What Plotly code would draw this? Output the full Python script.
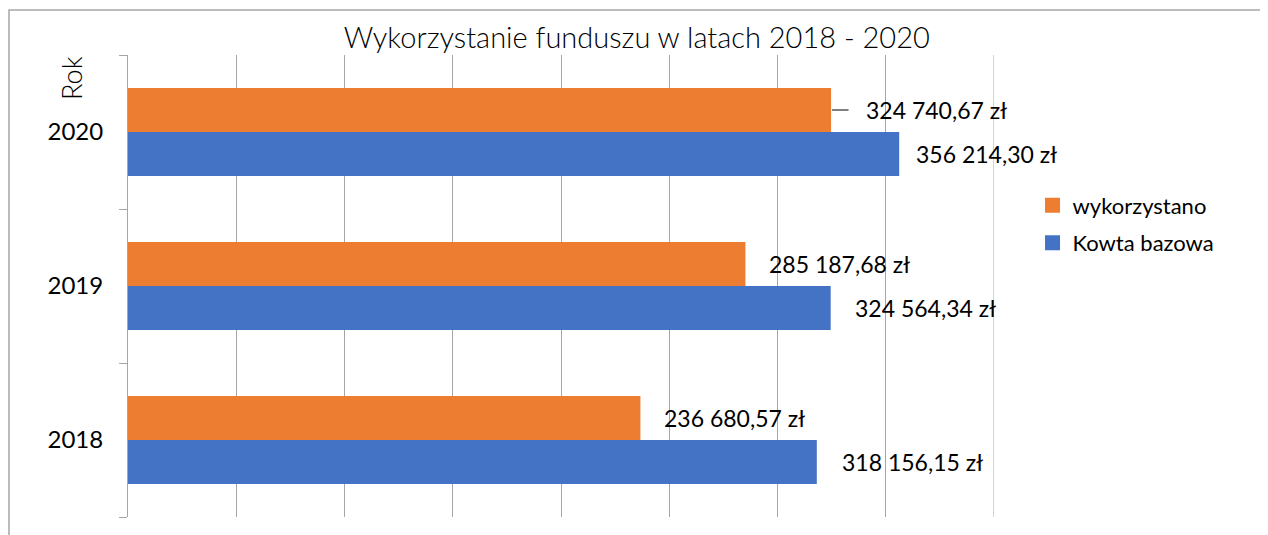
import plotly.graph_objects as go

years = ["2018", "2019", "2020"]
kwota_bazowa = [318156.15, 324564.34, 356214.30]
wykorzystano = [236680.57, 285187.68, 324740.67]
series_names = ["Kowta bazowa", "wykorzystano"]
title_text = "Wykorzystanie funduszu w latach 2018 - 2020"
axis_title = "Rok"
x_max = 400000
x_step = 50000

BLUE = "#4472C4"
ORANGE = "#ED7D31"
GRID = "#A6A6A6"
FONT = "Lato"


def fmt(v):
    s = f"{v:,.2f}"
    return s.replace(",", " ").replace(".", ",") + " zł"


fig = go.Figure()
fig.add_trace(go.Bar(y=years, x=kwota_bazowa, orientation="h", name=series_names[0],
                     marker=dict(color=BLUE, line=dict(width=0)), showlegend=False))
fig.add_trace(go.Bar(y=years, x=wykorzystano, orientation="h", name=series_names[1],
                     marker=dict(color=ORANGE, line=dict(width=0)), showlegend=False))

# legend entries with larger square swatches
for name, col, grp, rank in [(series_names[1], ORANGE, "a", 1), (series_names[0], BLUE, "b", 2)]:
    fig.add_trace(go.Scatter(x=[None], y=[None], mode="markers", name=name,
                             marker=dict(symbol="square", size=15, color=col),
                             legendgroup=grp, legendrank=rank, showlegend=True,
                             hoverinfo="skip"))

# data labels (category index positions on the y axis)
blue_shift = [23, 22, 15]
orange_shift = [22, 22, 33]
for i, v in enumerate(kwota_bazowa):
    fig.add_annotation(x=v, y=i, text=fmt(v), showarrow=False, xanchor="left",
                       yanchor="middle", xshift=blue_shift[i], yshift=-22,
                       font=dict(family=FONT, size=23, color="#000000"))
for i, v in enumerate(wykorzystano):
    fig.add_annotation(x=v, y=i, text=fmt(v), showarrow=False, xanchor="left",
                       yanchor="middle", xshift=orange_shift[i], yshift=22,
                       font=dict(family=FONT, size=23, color="#000000"))
    if orange_shift[i] > 25:
        # leader line from bar end to the moved label
        fig.add_annotation(x=v, y=i, yshift=22, text="", showarrow=True,
                           arrowhead=0, ax=19, ay=0, standoff=1, arrowwidth=1.2,
                           arrowcolor="#000000")

# gridline at the right end of the value axis
fig.add_shape(type="line", xref="x", yref="y domain", x0=x_max, x1=x_max, y0=0, y1=1,
              line=dict(color=GRID, width=1), layer="below")

# outer chart border
fig.add_shape(type="rect", xref="paper", yref="paper", x0=-0.1374, x1=2, y0=-1, y1=1.0974,
              line=dict(color=GRID, width=1.5), fillcolor="rgba(0,0,0,0)", layer="below")

fig.add_annotation(xref="paper", yref="paper", x=-0.066, y=0.95, text=axis_title,
                   textangle=-90, showarrow=False, xanchor="center", yanchor="middle",
                   font=dict(family=FONT, size=27, color="#000000", weight=300))

fig.update_layout(
    width=1260, height=527,
    margin=dict(l=120, r=274, t=47, b=18),
    paper_bgcolor="white", plot_bgcolor="white",
    barmode="group", bargap=0.43, bargroupgap=0,
    title=dict(text=title_text, x=0.499, xanchor="center", y=0.943, yanchor="middle",
               font=dict(family=FONT, size=29, color="#000000", weight=300)),
    legend=dict(x=1.0445, y=0.72, xanchor="left", yanchor="top",
                traceorder="grouped", tracegroupgap=6,
                font=dict(family=FONT, size=22, color="#000000"),
                bgcolor="rgba(0,0,0,0)"),
    xaxis=dict(range=[0, x_max], dtick=x_step, showticklabels=False, showgrid=True,
               gridcolor=GRID, gridwidth=1, zeroline=False, showline=False, ticks="",
               autorange=False),
    yaxis=dict(type="category", categoryorder="array", categoryarray=years,
               range=[-0.5, len(years) - 0.5], autorange=False,
               showline=True, linecolor=GRID, linewidth=1, ticks="outside",
               tickson="boundaries", ticklen=8, tickcolor=GRID, showgrid=False,
               ticklabelstandoff=19,
               tickfont=dict(family=FONT, size=24, color="#000000")),
    font=dict(family=FONT),
)

fig.write_html("out.html")
